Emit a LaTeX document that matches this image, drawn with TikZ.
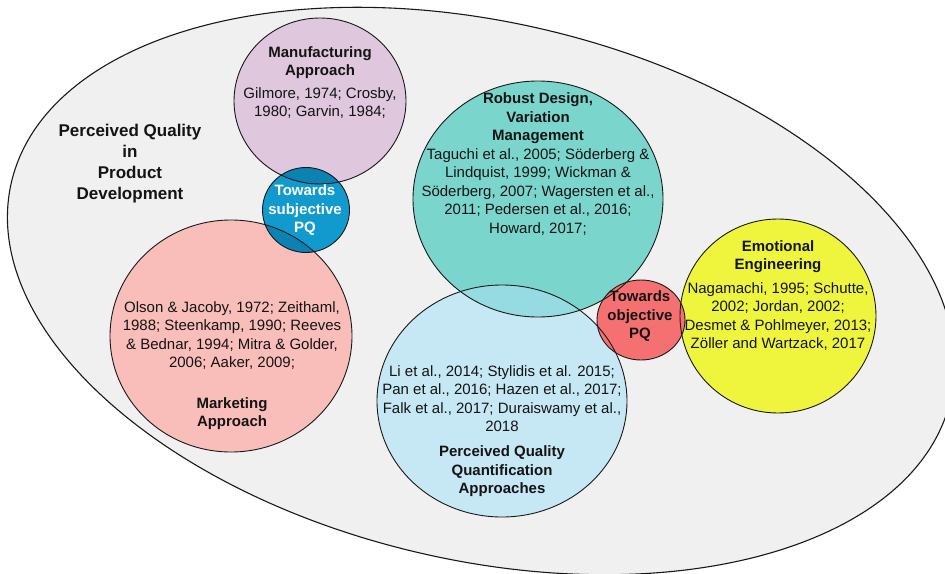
\documentclass[tikz,border=0pt]{standalone}
\usepackage{fontspec}
\setmainfont{Liberation Sans}
\definecolor{bggray}{HTML}{F0F0F0}
\definecolor{manufc}{HTML}{DFC7DD}
\definecolor{bluec}{HTML}{119ACE}
\definecolor{bluedark}{HTML}{0C82B2}
\definecolor{marketc}{HTML}{F9BEB9}
\definecolor{tealc}{HTML}{7AD5CC}
\definecolor{lbluec}{HTML}{C6E8F4}
\definecolor{overlapc}{HTML}{97DBE2}
\definecolor{redc}{HTML}{F57171}
\definecolor{yellowc}{HTML}{EEF53C}
\newcommand\shManuf{(320,101) ellipse [x radius=86, y radius=83]}
\newcommand\shBlue{(306,210) ellipse [x radius=43.5, y radius=42.5]}
\newcommand\shMarket{(231,336) ellipse [x radius=121, y radius=116]}
\newcommand\shTeal{(538,199) ellipse [x radius=125, y radius=118]}
\newcommand\shLblue{(502,401) ellipse [x radius=125, y radius=116]}
\newcommand\shRed{(641,320) ellipse [x radius=44, y radius=40]}
\newcommand\shYellow{(778,316) ellipse [x radius=98, y radius=97]}
\begin{document}
\begin{tikzpicture}[x=1pt,y=-1pt,
  outl/.style={draw=black!90, line width=0.9pt},
  ref/.style={font=\fontsize{15}{18.5}\selectfont, align=center, text=black!92, inner sep=0pt},
  ttl/.style={font=\bfseries\fontsize{15}{18.5}\selectfont, align=center, text=black!92, inner sep=0pt},
]
\useasboundingbox (0,0) rectangle (945,573);
\clip (0,0) rectangle (945,573);
\fill[white] (0,0) rectangle (945,573);
% outer container
\path[fill=bggray, draw=black!90, line width=1.1pt, rotate around={-13:(481,291)}]
  (481,291) ellipse [x radius=482, y radius=269];
% fills
\fill[manufc] \shManuf;
\fill[marketc] \shMarket;
\fill[bluec] \shBlue;
\begin{scope}
  \clip \shBlue;
  \fill[bluedark] \shManuf;
  \fill[bluedark] \shMarket;
\end{scope}
\fill[tealc] \shTeal;
\fill[lbluec] \shLblue;
\begin{scope}
  \clip \shTeal;
  \fill[overlapc] \shLblue;
\end{scope}
\fill[yellowc] \shYellow;
\fill[redc] \shRed;
% outlines
\draw[outl] \shManuf;
\draw[outl] \shMarket;
\draw[outl] \shBlue;
\draw[outl] \shTeal;
\draw[outl] \shLblue;
\draw[outl] \shYellow;
\draw[outl] \shRed;
% texts
\node[ttl, font=\bfseries\fontsize{17}{21}\selectfont] (title) at (130,164) {Perceived Quality\\in\\Product\\Development};
\node[ttl] (manT) at (320,62.5) {Manufacturing\\Approach};
\node[ref] (manR) at (320,103) {Gilmore, 1974; Crosby,\\1980; Garvin, 1984;};
\node[ttl, text=white] (subj) at (305,210.5) {Towards\\subjective\\PQ};
\node[ref] (mktR) at (232,335.5) {Olson \& Jacoby, 1972; Zeithaml,\\1988; Steenkamp, 1990; Reeves\\\& Bednar, 1994; Mitra \& Golder,\\2006; Aaker, 2009;};
\node[ttl] (mktT) at (232,413.5) {Marketing\\Approach};
\node[ttl] (robT) at (538,118.5) {Robust Design,\\Variation\\Management};
\node[ref] (robR) at (538,192) {Taguchi et al., 2005; Söderberg \&\\Lindquist, 1999; Wickman \&\\Söderberg, 2007; Wagersten et al.,\\2011; Pedersen et al., 2016;\\Howard, 2017;};
\node[ref] (pqR) at (502,398.5) {Li et al., 2014; Stylidis et al. 2015;\\Pan et al., 2016; Hazen et al., 2017;\\Falk et al., 2017; Duraiswamy et al.,\\2018};
\node[ttl] (pqT) at (502,471.5) {Perceived Quality\\Quantification\\Approaches};
\node[ttl] (obj) at (640,316.5) {Towards\\objective\\PQ};
\node[ttl] (emoT) at (778,256.5) {Emotional\\Engineering};
\node[ref] (emoR) at (778,316.5) {Nagamachi, 1995; Schutte,\\2002; Jordan, 2002;\\Desmet \& Pohlmeyer, 2013;\\Zöller and Wartzack, 2017};
\end{tikzpicture}
\end{document}
